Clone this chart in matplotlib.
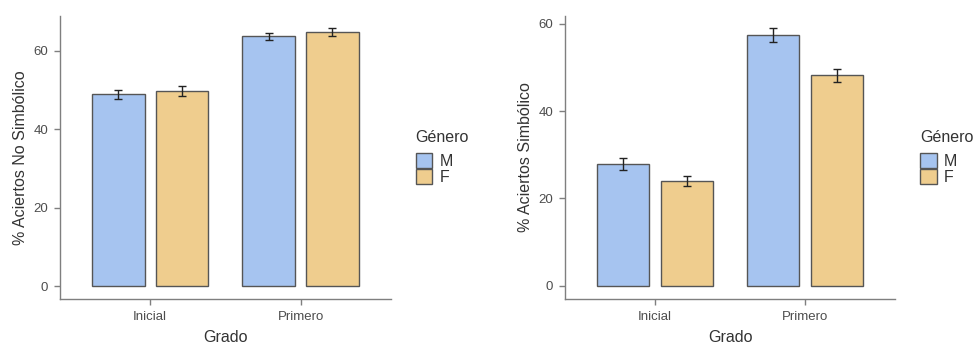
import numpy as np
import matplotlib
matplotlib.use('Agg')
import matplotlib.pyplot as plt
from matplotlib.patches import Patch

plt.rcParams['font.family'] = ['Liberation Sans', 'DejaVu Sans']

grados = ['Inicial', 'Primero']
generos = ['M', 'F']

# % aciertos no simbolico (M, F per grado)
no_simb_M = [48.9, 63.6]
no_simb_F = [49.7, 64.7]
no_simb_M_err = [1.15, 1.0]
no_simb_F_err = [1.3, 1.1]

# % aciertos simbolico
simb_M = [27.8, 57.3]
simb_F = [24.0, 48.2]
simb_M_err = [1.4, 1.6]
simb_F_err = [1.1, 1.5]

col_M = '#A6C4F0'
col_F = '#EFCD8E'
edge = '#555555'
axcol = '#7f7f7f'

fig = plt.figure(figsize=(9.77, 3.45), dpi=100)
ax1 = fig.add_axes([0.0614, 0.1333, 0.3385, 0.8212])
ax2 = fig.add_axes([0.5783, 0.1333, 0.3378, 0.8212])

x = np.arange(len(grados))
off = 0.212
w = 0.349


def draw(ax, m, f, me, fe, ylabel, ylim, yticks):
    ax.bar(x - off, m, w, color=col_M, edgecolor=edge, linewidth=1, zorder=2)
    ax.bar(x + off, f, w, color=col_F, edgecolor=edge, linewidth=1, zorder=2)
    ax.errorbar(x - off, m, yerr=me, fmt='none', ecolor='#222222', elinewidth=1,
                capsize=3, capthick=1, zorder=3)
    ax.errorbar(x + off, f, yerr=fe, fmt='none', ecolor='#222222', elinewidth=1,
                capsize=3, capthick=1, zorder=3)
    ax.set_xlim(-0.6, 1.6)
    ax.set_ylim(*ylim)
    ax.set_yticks(yticks)
    ax.set_xticks(x)
    ax.set_xticklabels(grados)
    for s in ['top', 'right']:
        ax.spines[s].set_visible(False)
    for s in ['left', 'bottom']:
        ax.spines[s].set_color(axcol)
        ax.spines[s].set_linewidth(1)
    ax.tick_params(axis='both', colors=axcol, length=4, width=1, pad=4.5,
                   labelsize=9.5, labelcolor='#4d4d4d')
    ax.set_xlabel('Grado', fontsize=11.5, color='#333333', labelpad=5.5)
    ax.set_ylabel(ylabel, fontsize=11.5, color='#333333', labelpad=4)
    handles = [Patch(facecolor=col_M, edgecolor=edge, linewidth=1),
               Patch(facecolor=col_F, edgecolor=edge, linewidth=1)]
    leg = ax.legend(handles, generos, title='Género', loc='center left',
                    bbox_to_anchor=(1.075, 0.5), frameon=False, fontsize=11.5,
                    title_fontsize=11.5, handlelength=1.05, handleheight=1.05,
                    labelspacing=0.0, handletextpad=0.45, borderpad=0,
                    borderaxespad=0)
    leg._legend_box.align = 'left'
    leg._legend_box.sep = 6
    for t in leg.get_texts():
        t.set_color('#333333')
    leg.get_title().set_color('#333333')


draw(ax1, no_simb_M, no_simb_F, no_simb_M_err, no_simb_F_err,
     '% Aciertos No Simbólico', (-3.3, 68.9), [0, 20, 40, 60])
draw(ax2, simb_M, simb_F, simb_M_err, simb_F_err,
     '% Aciertos Simbólico', (-3.0, 61.8), [0, 20, 40, 60])

fig.savefig('out.png', dpi=100)
